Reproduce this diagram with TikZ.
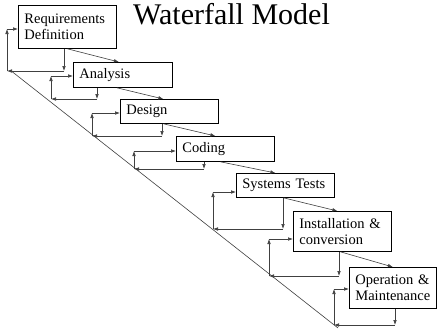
\documentclass[tikz,border=0pt]{standalone}
\usepackage{fontspec}
\setmainfont{Liberation Serif}
\usetikzlibrary{arrows.meta,calc}
\begin{document}
\begin{tikzpicture}[x=1pt,y=-1pt,
 box/.style={draw=black, line width=0.8pt, anchor=north west, align=left, inner xsep=6pt, inner ysep=0pt, font=\fontsize{14.5}{16.5}\selectfont},
 arr/.style={draw=black!75, line width=0.6pt, -{Latex[length=5pt,width=3.6pt]}},
 ln/.style={draw=black!75, line width=0.6pt}]
\useasboundingbox[fill=white] (0,0) rectangle (437,332);
\node[anchor=base west, font=\fontsize{30}{32}\selectfont, inner sep=0pt] (title) at (133,24) {Waterfall Model};
% boxes
\node[box, text width=86pt, minimum height=43pt] (R) at (18,5) {Requirements\\Definition};
\node[box, text width=87pt, minimum height=25pt] (A) at (73,62) {Analysis};
\node[box, text width=86pt, minimum height=24pt] (D) at (120,99) {Design};
\node[box, text width=86pt, minimum height=25pt] (C) at (176,136) {Coding};
\node[box, text width=86pt, minimum height=24pt] (S) at (236,173) {Systems Tests};
\node[box, text width=86pt, minimum height=40pt] (I) at (293,211) {Installation \&\\conversion};
\node[box, text width=75pt, minimum height=41pt] (O) at (349,267) {Operation \&\\Maintenance};
% long diagonal line
\coordinate (g1) at (10,70);
\coordinate (g2) at (338,328);
\draw[ln] (g1) -- (g2);
% forward arrows
\draw[arr] (R.south) -- ($(A.north)+(-4,0)$);
\draw[arr] ($(A.south)+(-6,0)$) -- ($(D.north)+(-6,0)$);
\draw[arr] ($(D.south)+(-6,0)$) -- ($(C.north)+(-10,0)$);
\draw[arr] ($(C.south)+(-5,0)$) -- ($(S.north)+(-10,0)$);
\draw[arr] ($(S.south)+(-2,0)$) -- ($(I.north)+(-5,0)$);
\draw[arr] ($(I.south)+(-2,0)$) -- (O.north);
% feedback loops: down, left, up, right
\foreach \n/\d/\b/\c/\m in {R/64/71/7/29, A/97/99/51/76, D/162/136/92/113, C/204/169/134/151, S/283/229/213/192, I/339/276/269/239, O/395/325/334/289}{
  \coordinate (fd\n) at (\d,\b);
  \coordinate (fc\n) at (\c,\b);
  \coordinate (fm\n) at (\c,\m);
  \draw[arr] (\n.south -| fd\n) -- (fd\n);
  \draw[arr] (fd\n) -- (fc\n);
  \draw[arr] (fc\n) -- (fm\n);
  \draw[arr] (fm\n) -- (\n.west |- fm\n);
}
\end{tikzpicture}
\end{document}
